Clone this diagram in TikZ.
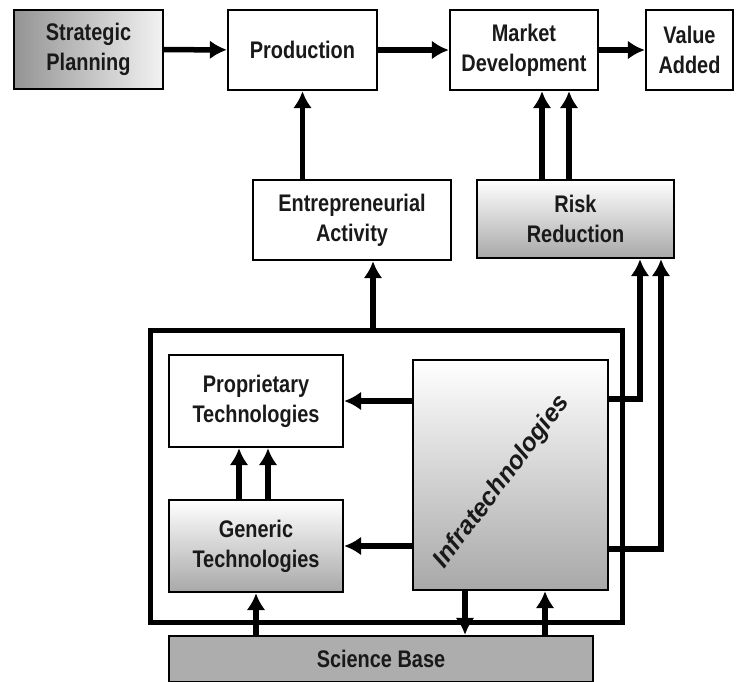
\documentclass[tikz,border=0pt]{standalone}
\usepackage{fontspec}
\setmainfont{Liberation Sans}[FakeStretch=0.83]
\newfontfamily\widesans{Liberation Sans}
\usetikzlibrary{arrows.meta}

\definecolor{boxgray}{HTML}{A8A8A8}
\definecolor{basegray}{HTML}{ADADAD}

\tikzset{%
          every stage/.style={
            rectangle,
            draw,
            line width=2.4pt,
            inner sep=0pt,
            align=center,
            text=black!90,
            font=\bfseries\fontsize{24}{30}\selectfont
          },
          stage faded/.style={
            every stage,
            top color=white,
            bottom color=boxgray
          },
          flow/.style={
            line width=5.5pt,
            -{Latex[length=17pt, width=19pt]}
          },
        }

\begin{document}
\begin{tikzpicture}[x=1pt, y=-1pt]
        \useasboundingbox (0,0) rectangle (736,681);

        % top row
        \node [every stage, left color=black!42, right color=white!95!black, minimum width=149, minimum height=79] (strategic) at (88.5,49.5) {Strategic\\Planning};
        \node [every stage, minimum width=149, minimum height=80] (production) at (302.5,50) {Production};
        \node [every stage, minimum width=148, minimum height=80] (market) at (524,50) {Market\\Development};
        \node [every stage, minimum width=87, minimum height=80] (value) at (689.5,50) {Value\\Added};

        % middle row
        \node [every stage, minimum width=198, minimum height=80] (entrepreneurial) at (352,220) {Entrepreneurial\\Activity};
        \node [stage faded, minimum width=197, minimum height=78] (risk) at (575.5,219) {Risk\\Reduction};

        % technology block
        \node [draw, line width=5pt, minimum width=472, minimum height=292, inner sep=0pt] (core) at (386,476) {};
        \node [every stage, minimum width=174, minimum height=92] (proprietary) at (256,401) {Proprietary\\Technologies};
        \node [stage faded, minimum width=174, minimum height=92] (generic) at (256,546) {Generic\\Technologies};
        \node [stage faded, minimum width=195, minimum height=230] (infra) at (510.5,475) {};
        \node [rotate=53, inner sep=0pt, font=\widesans\bfseries\itshape\fontsize{25}{30}\selectfont, text=black!90] (infra-label) at (502,482) {Infratechnologies};
        \node [every stage, fill=basegray, minimum width=424, minimum height=46] (science) at (381,659) {Science Base};

        % lanes for parallel connectors
        \coordinate (lane-risk-1) at (542,0);
        \coordinate (lane-risk-2) at (569,0);
        \coordinate (lane-core) at (373,0);
        \coordinate (lane-prop-1) at (239,0);
        \coordinate (lane-prop-2) at (268,0);
        \coordinate (lane-out-1) at (640,399);
        \coordinate (lane-out-2) at (661,549);
        \coordinate (lane-down) at (465,0);
        \coordinate (lane-up) at (545,0);

        \path [draw, flow] (strategic) -- (production);
        \path [draw, flow] (production.east |- market) -- (market);
        \path [draw, flow] (market) -- (value);

        \path [draw, flow] (entrepreneurial.north -| production) -- (production.south);
        \path [draw, flow] (risk.north -| lane-risk-1) -- (market.south -| lane-risk-1);
        \path [draw, flow] (risk.north -| lane-risk-2) -- (market.south -| lane-risk-2);

        \path [draw, flow] (core.north -| lane-core) -- (entrepreneurial.south -| lane-core);

        \path [draw, flow] (generic.north -| lane-prop-1) -- (proprietary.south -| lane-prop-1);
        \path [draw, flow] (generic.north -| lane-prop-2) -- (proprietary.south -| lane-prop-2);
        \path [draw, flow] (infra.west |- proprietary) -- (proprietary.east);
        \path [draw, flow] (infra.west |- generic) -- (generic.east);

        \path [draw, flow] (infra.east |- lane-out-1) -| (risk.south -| lane-out-1);
        \path [draw, flow] (infra.east |- lane-out-2) -| (risk.south -| lane-out-2);

        \path [draw, flow] (science.north -| generic) -- (generic.south);
        \path [draw, flow] (infra.south -| lane-down) -- (science.north -| lane-down);
        \path [draw, flow] (science.north -| lane-up) -- (infra.south -| lane-up);

        \end{tikzpicture}
\end{document}
